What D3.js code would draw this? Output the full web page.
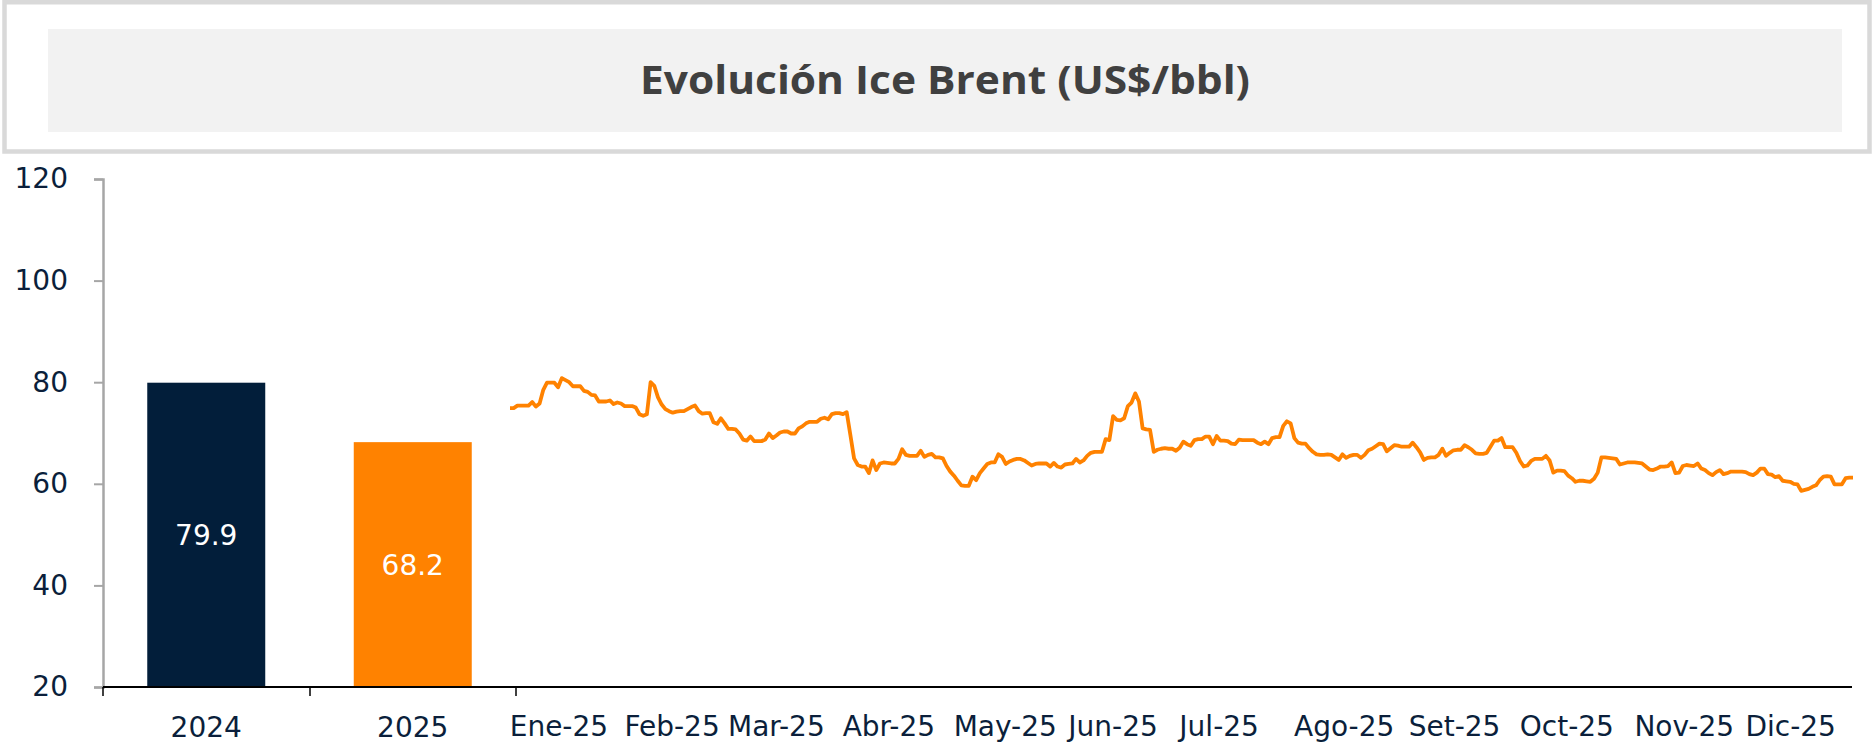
<!DOCTYPE html>
<html>
<head>
<meta charset="utf-8">
<script src="https://cdn.jsdelivr.net/npm/d3@7"></script>
<style>
  html, body { margin: 0; padding: 0; background: #fff; }
  svg { display: block; }
</style>
</head>
<body>
<div id="chart"></div>
<script>
// Promedio anual (barras)
var anios = ["2024", "2025"];
var promedios = [79.9, 68.2];

// Ticks del eje Y
var yTicks = [20, 40, 60, 80, 100, 120];

// Etiquetas de meses
var meses = ["Ene-25", "Feb-25", "Mar-25", "Abr-25", "May-25", "Jun-25",
             "Jul-25", "Ago-25", "Set-25", "Oct-25", "Nov-25", "Dic-25"];

// Brent diario (días calendario, fines de semana repiten el viernes), desde 31-dic-2024
var dic24 = [74.9];
var ene = [74.9, 75.4, 75.4, 75.4, 75.4, 76.1, 75.2, 75.8, 78.5, 79.9, 79.9, 79.9, 79.0, 80.8, 80.4, 80.0,
           79.2, 79.2, 79.2, 78.3, 78.1, 77.5, 77.4, 76.2, 76.2, 76.2, 76.4, 75.7, 76.0, 75.8, 75.3];
var feb = [75.3, 75.3, 75.0, 73.7, 73.4, 73.7, 80.0, 79.3, 77.0, 75.6, 74.7, 74.3, 74.0, 74.2, 74.3, 74.3,
           74.7, 75.1, 75.4, 74.3, 73.8, 73.9, 73.9, 72.1, 71.8, 72.9, 71.9, 70.8];
var mar = [70.8, 70.7, 69.9, 68.7, 68.5, 69.3, 68.4, 68.4, 68.4, 68.7, 69.9, 69.0, 69.5, 70.1, 70.3, 70.3,
           69.9, 69.9, 70.9, 71.3, 71.9, 72.2, 72.2, 72.2, 72.8, 73.0, 72.7, 73.7, 73.9, 73.9, 73.7];
var abr = [74.1, 69.6, 65.0, 63.7, 63.4, 63.4, 62.1, 64.6, 62.7, 64.0, 64.2, 64.1, 64.0, 64.0, 64.9, 66.8,
           65.7, 65.5, 65.5, 65.5, 66.5, 65.3, 65.7, 65.9, 65.2, 65.2, 65.0, 63.5, 62.4, 61.6];
var may = [60.6, 59.7, 59.6, 59.6, 61.4, 60.7, 62.1, 63.0, 63.9, 64.2, 64.2, 65.8, 65.3, 63.9, 64.4, 64.7,
           64.9, 64.9, 64.6, 64.1, 63.6, 63.9, 64.0, 64.0, 64.0, 63.4, 64.1, 63.4, 63.2, 63.8, 63.9];
var jun = [64.0, 64.9, 64.2, 64.6, 65.5, 66.1, 66.3, 66.3, 66.3, 68.8, 68.6, 73.3, 72.6, 72.5, 72.9, 75.3,
           76.0, 77.8, 76.2, 70.9, 70.7, 70.6, 66.3, 66.7, 66.9, 67.0, 66.9, 66.9, 66.5, 67.1];
var jul = [68.3, 67.8, 67.5, 68.6, 68.8, 68.8, 69.3, 69.3, 67.8, 69.4, 68.5, 68.5, 68.4, 67.9, 67.8, 68.7,
           68.6, 68.6, 68.6, 68.6, 68.1, 67.8, 68.3, 67.8, 69.0, 69.2, 69.2, 71.4, 72.3, 71.9, 69.0];
var ago = [68.1, 67.9, 67.9, 67.0, 66.3, 65.8, 65.7, 65.7, 65.8, 65.7, 65.2, 64.7, 65.8, 65.1, 65.5, 65.7,
           65.7, 65.1, 65.7, 66.6, 66.9, 67.4, 67.9, 67.8, 66.4, 67.0, 67.6, 67.5, 67.3, 67.3, 67.3];
var sep = [68.1, 67.2, 66.2, 64.7, 65.1, 65.2, 65.2, 65.7, 66.9, 65.5, 66.1, 66.6, 66.7, 66.7, 67.6, 67.2,
           66.7, 66.0, 65.9, 65.9, 66.1, 67.3, 68.5, 68.5, 69.0, 67.2, 67.2, 67.2, 66.1, 64.5];
var oct = [63.4, 63.6, 64.5, 64.9, 64.9, 64.9, 65.5, 64.6, 62.2, 62.6, 62.6, 62.5, 61.6, 61.1, 60.4, 60.6,
           60.6, 60.5, 60.4, 61.0, 62.2, 65.2, 65.2, 65.1, 65.0, 64.9, 63.8, 64.0, 64.2, 64.2, 64.2];
var nov = [64.1, 64.0, 63.4, 62.8, 62.7, 63.0, 63.4, 63.4, 63.5, 64.2, 62.1, 62.2, 63.5, 63.7, 63.6, 63.5,
           64.0, 63.0, 62.7, 62.1, 61.7, 62.3, 62.7, 61.9, 62.1, 62.4, 62.4, 62.4, 62.4, 62.3];
var dic = [61.9, 61.7, 62.2, 63.0, 63.0, 61.9, 61.8, 61.3, 61.5, 60.6, 60.5, 60.4, 60.0, 59.9, 58.6, 58.8,
           59.0, 59.4, 59.7, 60.7, 61.4, 61.5, 61.4, 59.9, 59.9, 59.9, 61.1, 61.2, 61.2];

var inicio = new Date(2024, 11, 31);
var serie = [].concat(dic24, ene, feb, mar, abr, may, jun, jul, ago, sep, oct, nov, dic);
var puntos = serie.map((v, i) => ({ fecha: d3.timeDay.offset(inicio, i), valor: v }));

var W = 1875, H = 743;
var fuente = "'DejaVu Sans', sans-serif";
var tam = 28;
var azul = "#0b1f3b";
var naranja = "#ff8200";

var svg = d3.select("#chart").append("svg")
    .attr("width", W)
    .attr("height", H);

// Caja del título
svg.append("rect")
    .attr("x", 4.5).attr("y", 2.25)
    .attr("width", 1865).attr("height", 149.25)
    .attr("fill", "#fff")
    .attr("stroke", "#d9d9d9")
    .attr("stroke-width", 4.5);

svg.append("rect")
    .attr("x", 48).attr("y", 29)
    .attr("width", 1794).attr("height", 103)
    .attr("fill", "#f2f2f2");

svg.append("text")
    .attr("x", 945).attr("y", 94)
    .attr("text-anchor", "middle")
    .attr("font-family", "'Open Sans', sans-serif")
    .attr("font-weight", "bold")
    .attr("font-size", 40)
    .attr("fill", "#404040")
    .attr("textLength", 610)
    .attr("lengthAdjust", "spacingAndGlyphs")
    .text("Evolución Ice Brent (US$/bbl)");

// Escalas
var y = d3.scaleLinear().domain([20, 120]).range([687, 179]);
var xBar = d3.scaleBand().domain(anios).range([103, 516])
    .paddingInner(0.4286).paddingOuter(0.2143);
var xTime = d3.scaleTime()
    .domain([inicio, puntos[puntos.length - 1].fecha])
    .range([510, 1853]);

// Eje Y
var yAxis = svg.append("g")
    .attr("transform", "translate(103,0)")
    .call(d3.axisLeft(y).tickValues(yTicks).tickSize(9).tickPadding(26));
yAxis.select(".domain").attr("stroke", "#a6a6a6").attr("stroke-width", 2.5);
yAxis.selectAll(".tick line").attr("stroke", "#a6a6a6").attr("stroke-width", 2);
yAxis.selectAll(".tick text")
    .attr("font-family", fuente)
    .attr("font-size", tam)
    .attr("fill", azul);

// Barras
svg.append("g").selectAll("rect")
    .data(anios)
    .enter()
    .append("rect")
    .attr("x", d => xBar(d))
    .attr("width", xBar.bandwidth())
    .attr("y", (d, i) => y(promedios[i]))
    .attr("height", (d, i) => y(20) - y(promedios[i]))
    .attr("fill", (d, i) => i === 0 ? "#021e3a" : naranja);

svg.append("g").selectAll("text")
    .data(anios)
    .enter()
    .append("text")
    .attr("x", d => xBar(d) + xBar.bandwidth() / 2)
    .attr("y", (d, i) => (y(promedios[i]) + y(20)) / 2)
    .attr("dy", "0.36em")
    .attr("text-anchor", "middle")
    .attr("font-family", fuente)
    .attr("font-size", tam)
    .attr("fill", "#fff")
    .text((d, i) => promedios[i].toFixed(1));

// Línea diaria
var linea = d3.line()
    .x(d => xTime(d.fecha))
    .y(d => y(d.valor));

svg.append("path")
    .datum(puntos)
    .attr("d", linea)
    .attr("fill", "none")
    .attr("stroke", naranja)
    .attr("stroke-width", 3.8)
    .attr("stroke-linejoin", "round");

// Eje X
svg.append("line")
    .attr("x1", 103).attr("x2", 1852)
    .attr("y1", 687).attr("y2", 687)
    .attr("stroke", "#000")
    .attr("stroke-width", 2);

svg.append("g").selectAll("line")
    .data([103, 310, 516])
    .enter()
    .append("line")
    .attr("x1", d => d).attr("x2", d => d)
    .attr("y1", 687).attr("y2", 696)
    .attr("stroke", "#000")
    .attr("stroke-width", 1.5);

svg.append("g").selectAll("text")
    .data(anios)
    .enter()
    .append("text")
    .attr("x", d => xBar(d) + xBar.bandwidth() / 2)
    .attr("y", 737)
    .attr("text-anchor", "middle")
    .attr("font-family", fuente)
    .attr("font-size", tam)
    .attr("fill", azul)
    .text(d => d);

var inicioMes = d3.timeMonth.range(new Date(2025, 0, 1), new Date(2026, 0, 1));
svg.append("g").selectAll("text")
    .data(meses)
    .enter()
    .append("text")
    .attr("x", (d, i) => xTime(inicioMes[i]) - 4)
    .attr("y", 736)
    .attr("font-family", fuente)
    .attr("font-size", tam)
    .attr("fill", azul)
    .text(d => d);
</script>
</body>
</html>
